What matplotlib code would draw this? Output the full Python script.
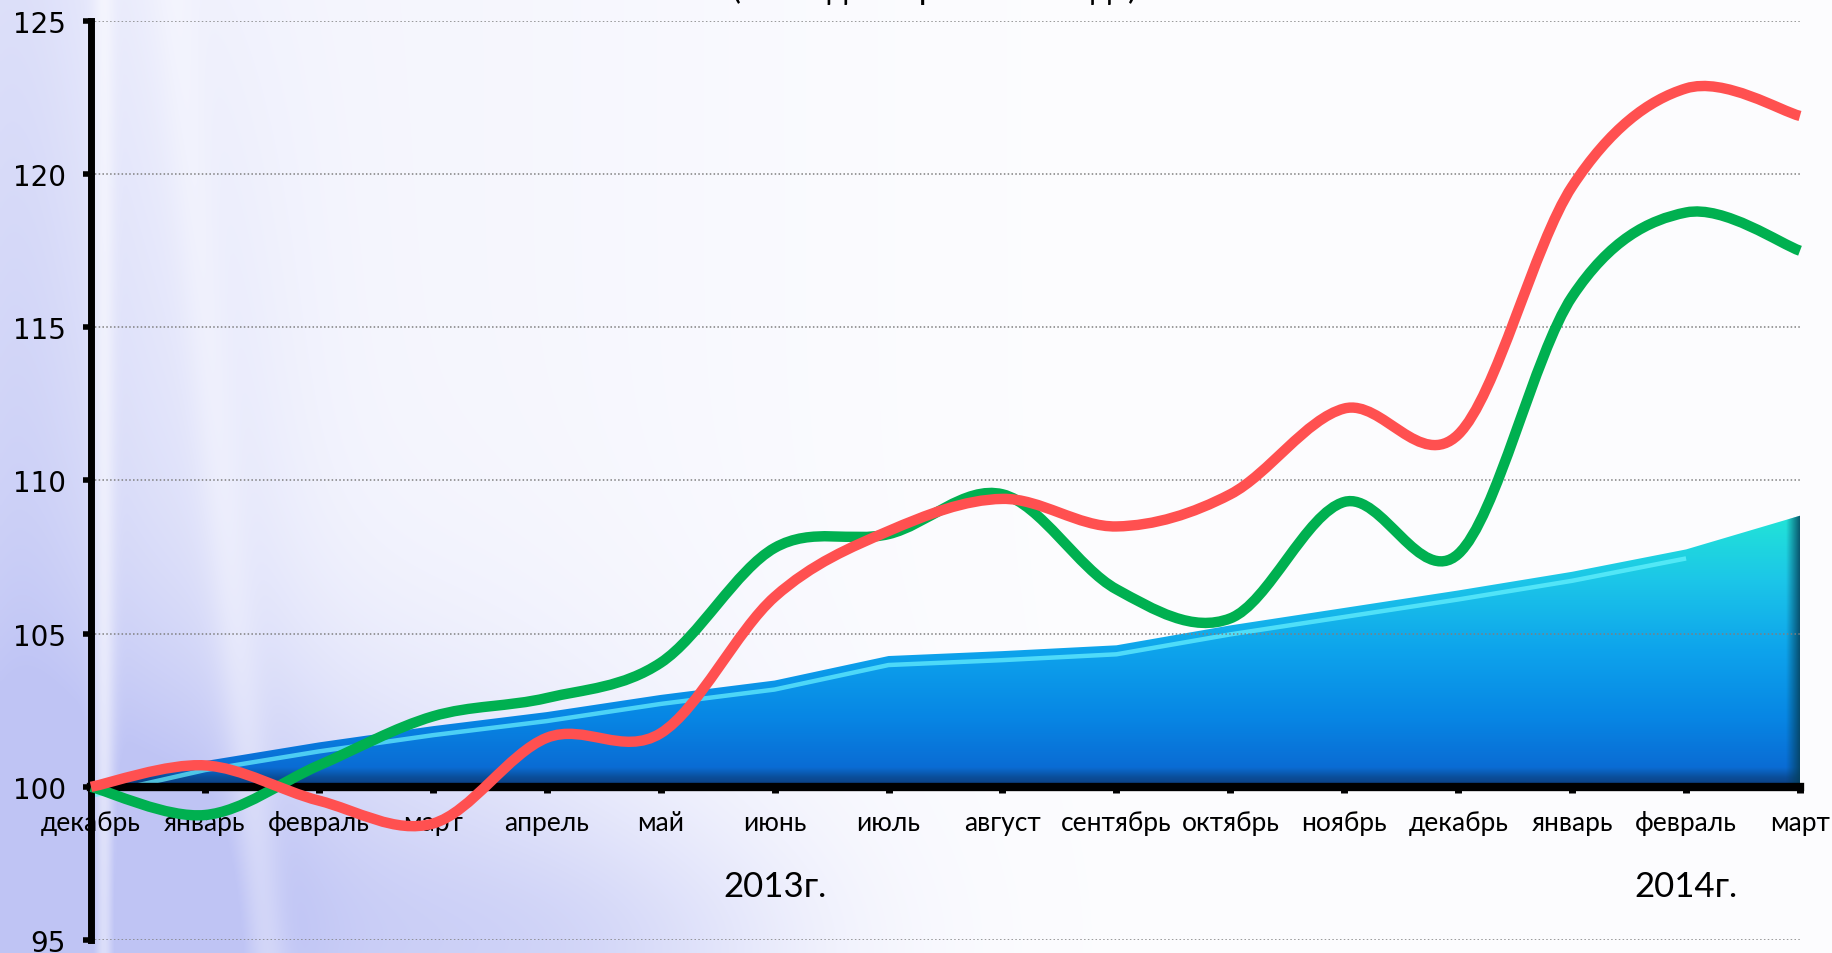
import numpy as np
import matplotlib

matplotlib.use("Agg")
import matplotlib.pyplot as plt
from matplotlib.path import Path
from matplotlib.patches import PathPatch
from matplotlib.colors import LinearSegmentedColormap
import matplotlib.transforms as mtransforms


MONTHS = [
    "декабрь", "январь", "февраль", "март", "апрель", "май", "июнь", "июль",
    "август", "сентябрь", "октябрь", "ноябрь", "декабрь", "январь", "февраль", "март",
]
AREA = [100.0, 100.84, 101.45, 101.98, 102.44, 103.0, 103.47, 104.27,
        104.43, 104.62, 105.27, 105.84, 106.41, 107.02, 107.75, 108.85]
GREEN = [100.0, 99.08, 100.7, 102.3, 102.9, 104.05, 107.8, 108.25,
         109.55, 106.45, 105.5, 109.3, 107.6, 116.0, 118.75, 117.5]
RED = [100.0, 100.7, 99.55, 98.8, 101.6, 101.75, 106.2, 108.35,
       109.4, 108.5, 109.55, 112.35, 111.5, 119.6, 122.8, 121.9]
YEARS = ["2013г.", "2014г."]
YEAR_POS = [6, 14]
Y_TICKS = [95, 100, 105, 110, 115, 120, 125]
TITLE = "(в % к декабрю 2012 года)"

NARROW = ["Lato", "Roboto", "DejaVu Sans"]

W, H = 1833, 954


def smooth_path(xs, ys):
    # excel-like smoothed line: cubic bezier through every point
    pts = np.column_stack([xs, ys]).astype(float)
    n = len(pts)
    verts = [pts[0]]
    codes = [Path.MOVETO]
    for i in range(n - 1):
        p0 = pts[max(i - 1, 0)]
        p1 = pts[i]
        p2 = pts[i + 1]
        p3 = pts[min(i + 2, n - 1)]
        c1 = p1 + (p2 - p0) / 6.0
        c2 = p2 - (p3 - p1) / 6.0
        verts += [c1, c2, p2]
        codes += [Path.CURVE4] * 3
    return Path(verts, codes)


def background(fig):
    # soft lavender slide background, fading to white on the right
    bg = fig.add_axes([0, 0, 1, 1], zorder=-10)
    bg.set_axis_off()
    yy, xx = np.mgrid[0:1:300j, 0:1:600j]
    w = 0.8 * np.exp(-(xx / 0.06) ** 2) * (0.55 + 0.45 * yy)
    w += 0.5 * np.exp(-((xx - 0.09) / 0.07) ** 2) * (0.2 + 0.8 * yy)
    w += 0.65 * np.exp(-((xx - 0.14) / 0.2) ** 2 - ((yy - 0.97) / 0.26) ** 2)
    w += 0.3 * np.exp(-((xx - 0.33) / 0.12) ** 2 - ((yy - 1.0) / 0.13) ** 2)
    w += 0.12 * np.exp(-((xx - 0.2) / 0.25) ** 2)
    w *= 1 - 0.6 * np.exp(-((xx - 0.056) / 0.006) ** 2)
    w *= 1 - 0.35 * np.exp(-((xx - 0.125 - 0.05 * (yy - 0.6)) / 0.012) ** 2)
    w = np.clip(w, 0, 1)
    base = np.array([0.992, 0.992, 1.0])
    lav = np.array([0.75, 0.77, 0.96])
    img = base[None, None, :] * (1 - w[..., None]) + lav[None, None, :] * w[..., None]
    bg.imshow(img, extent=[0, 1, 0, 1], aspect="auto", interpolation="bilinear")
    bg.set_xlim(0, 1)
    bg.set_ylim(0, 1)


fig = plt.figure(figsize=(W / 100, H / 100), dpi=100)
background(fig)

ax = fig.add_axes([91 / W, 13 / H, (1800 - 91) / W, (941 - 22) / H])
ax.patch.set_alpha(0)
x = np.arange(len(MONTHS))
ax.set_xlim(0, len(MONTHS) - 1)
ax.set_ylim(95, 125)

# area with a vertical gradient
poly = ax.fill_between(x, 100, AREA, color="none", lw=0)
area_cmap = LinearSegmentedColormap.from_list(
    "area",
    [(0.0, "#0b3a78"), (0.035, "#0b4f9c"), (0.07, "#0a6cd4"), (0.25, "#0786e4"),
     (0.5, "#0ea4ec"), (0.75, "#1cc6e8"), (1.0, "#22e6d6")],
)
grad = np.linspace(0, 1, 256)[:, None]
im = ax.imshow(grad, extent=[0, len(MONTHS) - 1, 100, 109], origin="lower",
               aspect="auto", cmap=area_cmap, zorder=1.2, interpolation="bilinear")
im.set_clip_path(poly.get_paths()[0], transform=ax.transData)

# right bevel of the area
edge_cmap = LinearSegmentedColormap.from_list(
    "edge", [(0, (0.02, 0.25, 0.35, 0.0)), (1, (0.02, 0.25, 0.35, 0.85))])
im2 = ax.imshow(np.linspace(0, 1, 64)[None, :], extent=[14.88, 15, 100, 109],
                aspect="auto", cmap=edge_cmap, zorder=1.3, interpolation="bilinear")
im2.set_clip_path(poly.get_paths()[0], transform=ax.transData)

# light highlight just under the top edge
hl = mtransforms.offset_copy(ax.transData, fig=fig, x=0, y=-9, units="dots")
ax.plot(x[:-1], AREA[:-1], color="#6af4ff", lw=3.2, alpha=0.7, zorder=1.4,
        transform=hl, solid_capstyle="butt")

ax.add_patch(PathPatch(smooth_path(x, GREEN), fill=False, edgecolor="#00b050",
                       lw=7.5, capstyle="butt", zorder=3, clip_on=False))
ax.add_patch(PathPatch(smooth_path(x, RED), fill=False, edgecolor="#ff5050",
                       lw=7.5, capstyle="butt", zorder=3.1, clip_on=False))

for s in ["top", "right"]:
    ax.spines[s].set_visible(False)
ax.spines["bottom"].set_position(("data", 100))
ax.spines["bottom"].set_linewidth(6)
ax.spines["left"].set_linewidth(5)
ax.spines["bottom"].set_zorder(2.5)

ax.set_yticks(Y_TICKS)
ax.set_yticklabels([str(v) for v in Y_TICKS], fontsize=20, family="DejaVu Sans")
ax.tick_params(axis="y", direction="out", length=6, width=4, pad=12)
ax.set_xticks(x)
ax.set_xticklabels(MONTHS, fontsize=19, family=NARROW)
ax.tick_params(axis="x", direction="out", length=4, width=5, pad=13)

ax.yaxis.grid(True, linestyle=(0, (1, 1.5)), color="#7f7f7f", lw=1.1)
ax.xaxis.grid(False)

for label, pos in zip(YEARS, YEAR_POS):
    ax.text(pos, 96.75, label, ha="center", va="center", fontsize=25, family=NARROW)

fig.text(0.51, 1 + 1 / H, TITLE, ha="center", va="baseline", fontsize=24, family=NARROW)

fig.savefig("out.png", dpi=100)
